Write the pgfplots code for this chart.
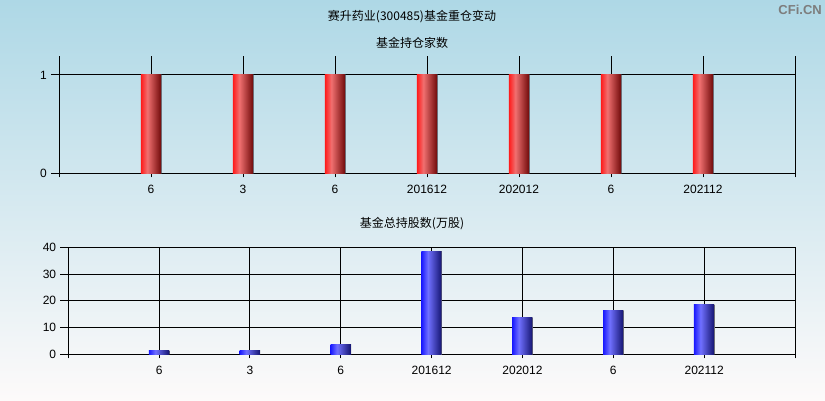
\documentclass[border=0pt]{standalone}
\usepackage{pgfplots}
\pgfplotsset{compat=1.18}
\usepackage{fontspec}
\setmainfont{Liberation Sans}
\newfontfamily\cjk{Noto Sans CJK SC}
\definecolor{rb1}{RGB}{255,25,25}
\definecolor{rb2}{RGB}{240,112,112}
\definecolor{rb3}{RGB}{120,16,16}
\definecolor{bb1}{RGB}{25,25,255}
\definecolor{bb2}{RGB}{112,112,255}
\definecolor{bb3}{RGB}{25,25,120}
\definecolor{shd}{RGB}{110,110,120}
\definecolor{bgtop}{RGB}{174,216,230}
\definecolor{bgbot}{RGB}{253,250,250}
\pgfdeclarehorizontalshading{redbar}{100bp}{color(0bp)=(rb1); color(25bp)=(rb1); color(41bp)=(rb2); color(72.5bp)=(rb3); color(73bp)=(shd); color(100bp)=(shd)}
\pgfdeclarehorizontalshading{bluebar}{100bp}{color(0bp)=(bb1); color(25bp)=(bb1); color(41bp)=(bb2); color(72.5bp)=(bb3); color(73bp)=(shd); color(100bp)=(shd)}
\pgfplotsset{
  chartstyle/.style={
    scale only axis,
    xmin=0, xmax=8,
    xtick={0,...,8},
    xticklabels={,6,3,6,201612,202012,6,202112,},
    grid=major,
    major grid style={black, line width=1pt},
    axis line style={draw=none},
    tick align=outside,
    xtick pos=bottom, ytick pos=left,
    major tick length=8pt,
    tick style={black, line width=1pt},
    xtick style={yshift=4pt},
    /pgf/number format/assume math mode=true,
    tick label style={font=\fontsize{12}{14}\selectfont, text=black},
  },
  redb/.style={ybar, bar shift=0pt, bar width=20.5pt, draw=none, shade, shading=redbar, forget plot},
  blueb/.style={ybar, bar shift=0pt, bar width=20.5pt, draw=none, shade, shading=bluebar, forget plot},
}
\begin{document}
\fontsize{12}{14}\selectfont
\begin{tikzpicture}[x=1pt,y=1pt]
\shade[top color=bgtop, bottom color=bgbot] (0,0) rectangle (825,400);
\node[font=\cjk\fontsize{12}{14}\selectfont] at (412,383) {赛升药业(300485)基金重仓变动};
\node[font=\cjk\fontsize{12}{14}\selectfont] at (412,357) {基金持仓家数};
\node[font=\cjk\fontsize{12}{14}\selectfont] at (412,176) {基金总持股数(万股)};
\node[anchor=east, text={rgb,255:red,125;green,125;blue,125}, font=\bfseries\fontsize{13}{15}\selectfont, inner sep=0pt] at (822,390) {CFi.CN};
\begin{axis}[chartstyle,
  at={(59pt,226.7pt)}, anchor=south west,
  width=736pt, height=117.3pt,
  ymin=0, ymax=1.193, ytick={0,1},
]
\addplot[redb] coordinates {(1,1)};
\addplot[redb] coordinates {(2,1)};
\addplot[redb] coordinates {(3,1)};
\addplot[redb] coordinates {(4,1)};
\addplot[redb] coordinates {(5,1)};
\addplot[redb] coordinates {(6,1)};
\addplot[redb] coordinates {(7,1)};
\end{axis}
\begin{axis}[chartstyle,
  at={(68.3pt,45.7pt)}, anchor=south west,
  width=726.7pt, height=107pt,
  ymin=0, ymax=40, ytick={0,10,20,30,40},
]
\addplot[blueb] coordinates {(1,1.6)};
\addplot[blueb] coordinates {(2,1.6)};
\addplot[blueb] coordinates {(3,3.5)};
\addplot[blueb] coordinates {(4,38.6)};
\addplot[blueb] coordinates {(5,13.6)};
\addplot[blueb] coordinates {(6,16.2)};
\addplot[blueb] coordinates {(7,18.8)};
\end{axis}
\pgfresetboundingbox
\useasboundingbox (0,0) rectangle (825,400);
\end{tikzpicture}
\end{document}
